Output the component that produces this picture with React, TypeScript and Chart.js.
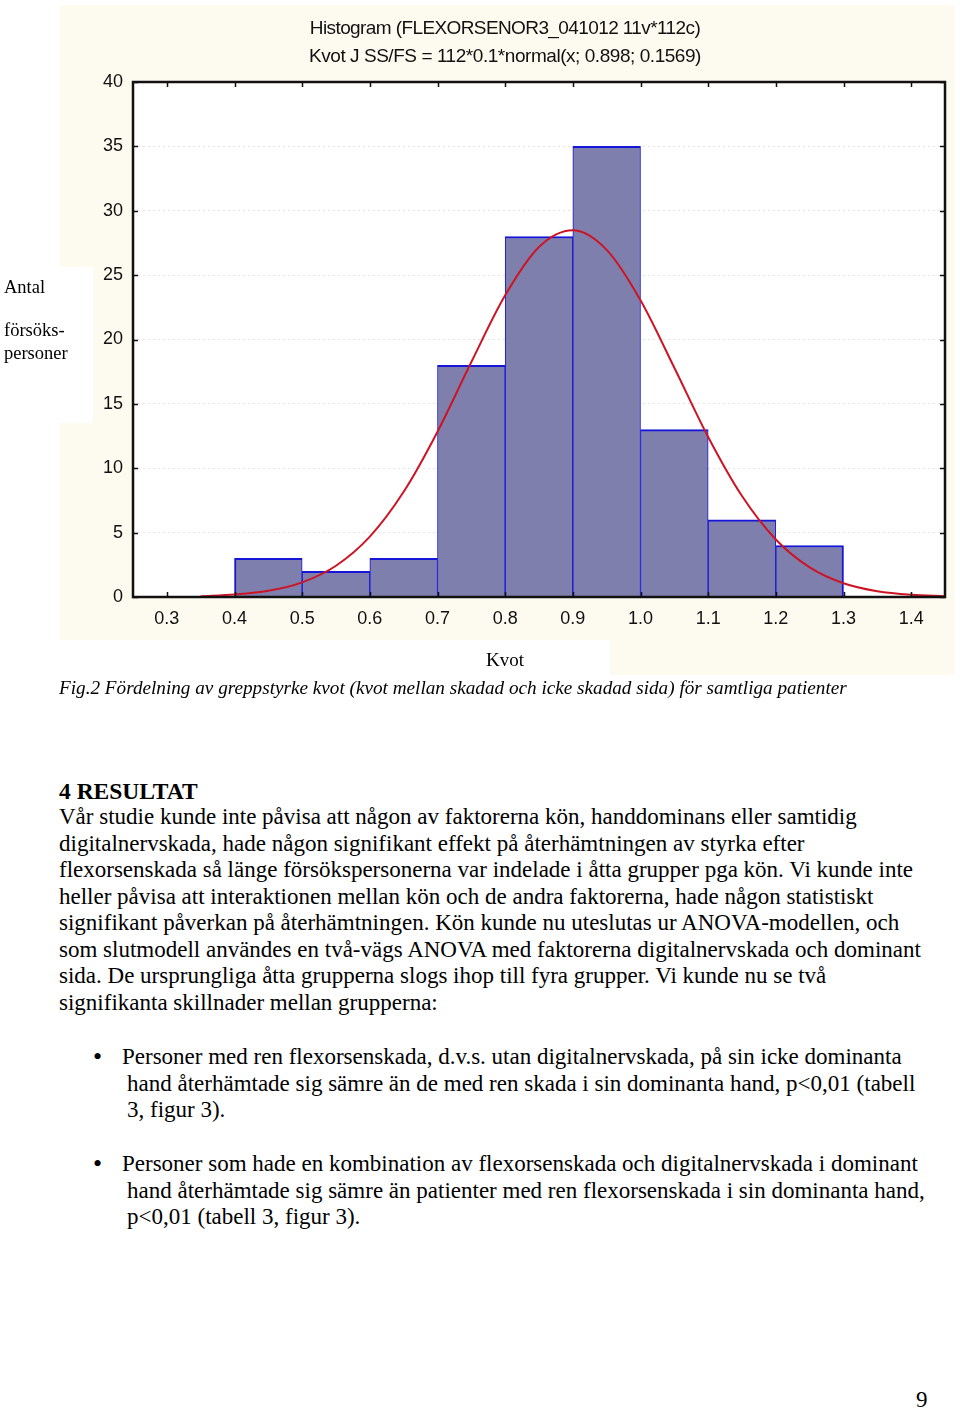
import React, { useEffect, useRef } from "react";
import { Chart, registerables } from "chart.js";

Chart.register(...registerables);

// ---- data ----
const binStarts = [0.4, 0.5, 0.6, 0.7, 0.8, 0.9, 1.0, 1.1, 1.2];
const binWidth = 0.1;
const binCounts = [3, 2, 3, 18, 28, 35, 13, 6, 4];

const curveX = [0.35, 0.4, 0.45, 0.5, 0.55, 0.6, 0.65, 0.7, 0.75, 0.8, 0.85, 0.9, 0.95, 1.0, 1.05, 1.1, 1.15, 1.2, 1.25, 1.3, 1.35, 1.4, 1.45];
const curveY = [0.06, 0.19, 0.48, 1.14, 2.43, 4.69, 8.17, 12.84, 18.25, 23.43, 27.18, 28.48, 26.96, 23.05, 17.81, 12.43, 7.84, 4.47, 2.3, 1.07, 0.45, 0.17, 0.06];

const xTickLabels = ["0.3", "0.4", "0.5", "0.6", "0.7", "0.8", "0.9", "1.0", "1.1", "1.2", "1.3", "1.4"];
const yMin = 0;
const yMax = 40;
const yStep = 5;
const xMin = 0.25;
const xMax = 1.45;

const titleLines = ["Histogram (FLEXORSENOR3_041012 11v*112c)", "Kvot J SS/FS = 112*0.1*normal(x; 0.898; 0.1569)"];
const yLabelLines = ["Antal", "försöks-", "personer"];
const xLabel = "Kvot";
const caption = "Fig.2 Fördelning av greppstyrke kvot (kvot mellan skadad och icke skadad sida) för samtliga patienter";
const heading = "4 RESULTAT";
const bodyLines = [
  "Vår studie kunde inte påvisa att någon av faktorerna kön, handdominans eller samtidig",
  "digitalnervskada, hade någon signifikant effekt på återhämtningen av styrka efter",
  "flexorsenskada så länge försökspersonerna var indelade i åtta grupper pga kön. Vi kunde inte",
  "heller påvisa att interaktionen mellan kön och de andra faktorerna, hade någon statistiskt",
  "signifikant påverkan på återhämtningen. Kön kunde nu uteslutas ur ANOVA-modellen, och",
  "som slutmodell användes en två-vägs ANOVA med faktorerna digitalnervskada och dominant",
  "sida. De ursprungliga åtta grupperna slogs ihop till fyra grupper. Vi kunde nu se två",
  "signifikanta skillnader mellan grupperna:",
];
const bullet1 = [
  "Personer med ren flexorsenskada, d.v.s. utan digitalnervskada, på sin icke dominanta",
  "hand återhämtade sig sämre än de med ren skada i sin dominanta hand, p<0,01 (tabell",
  "3, figur 3).",
];
const bullet2 = [
  "Personer som hade en kombination av flexorsenskada och digitalnervskada i dominant",
  "hand återhämtade sig sämre än patienter med ren flexorsenskada i sin dominanta hand,",
  "p<0,01 (tabell 3, figur 3).",
];
const pageNumber = "9";

const CREAM = "#fdfaef";
const SERIF = "'Liberation Serif', 'Times New Roman', serif";
const SANS = "'Liberation Sans', Arial, sans-serif";

const framePlugin = {
  id: "framePlugin",
  beforeDraw(chart: any) {
    const { ctx, chartArea } = chart;
    ctx.save();
    ctx.fillStyle = "#ffffff";
    ctx.fillRect(chartArea.left, chartArea.top, chartArea.right - chartArea.left, chartArea.bottom - chartArea.top);
    ctx.restore();
  },
  afterDatasetsDraw(chart: any) {
    const { ctx, chartArea, scales } = chart;
    const { left, right, top, bottom } = chartArea;
    ctx.save();
    ctx.strokeStyle = "#111111";
    ctx.lineWidth = 1.5;
    const tl = 5;
    ctx.beginPath();
    scales.y.ticks.forEach((t: any) => {
      const py = Math.round(scales.y.getPixelForValue(t.value)) + 0.5;
      ctx.moveTo(left, py);
      ctx.lineTo(left + tl, py);
      ctx.moveTo(right, py);
      ctx.lineTo(right - tl, py);
    });
    scales.x.ticks.forEach((t: any) => {
      const px = Math.round(scales.x.getPixelForValue(t.value)) + 0.5;
      ctx.moveTo(px, top);
      ctx.lineTo(px, top + tl);
      ctx.moveTo(px, bottom);
      ctx.lineTo(px, bottom - tl);
    });
    ctx.stroke();
    ctx.lineWidth = 2.5;
    ctx.strokeRect(left, top, right - left, bottom - top);
    ctx.restore();
  },
};

function HistogramChart() {
  const ref = useRef<HTMLCanvasElement | null>(null);
  useEffect(() => {
    if (!ref.current) return;
    const n = binCounts.length;
    const chart = new Chart(ref.current, {
      type: "bar",
      data: {
        datasets: [
          {
            type: "line",
            data: curveX.map((x, i) => ({ x, y: curveY[i] })),
            borderColor: "#cc1424",
            borderWidth: 2,
            pointRadius: 0,
            fill: false,
            cubicInterpolationMode: "monotone",
            order: 0,
          } as any,
          {
            type: "bar",
            data: binStarts.map((s, i) => ({ x: s + binWidth / 2, y: binCounts[i] })),
            backgroundColor: "#7f7fae",
            borderColor: "#1616d8",
            borderSkipped: false,
            borderWidth: (c: any) => ({
              top: 2,
              bottom: 0,
              left: c.dataIndex === 0 ? 2 : 1,
              right: c.dataIndex === n - 1 ? 2 : 1,
            }),
            barPercentage: 1,
            categoryPercentage: 1,
            grouped: false,
            order: 1,
          } as any,
        ],
      },
      options: {
        animation: false,
        responsive: false,
        devicePixelRatio: 1,
        events: [],
        layout: { padding: { left: 0, top: 82, right: 15, bottom: 63 } },
        plugins: {
          legend: { display: false },
          tooltip: { enabled: false },
          title: { display: false },
        },
        scales: {
          x: {
            type: "linear",
            offset: false,
            min: xMin,
            max: xMax,
            afterBuildTicks: (s: any) => {
              s.ticks = xTickLabels.map((v) => ({ value: parseFloat(v) }));
            },
            afterFit: (s: any) => {
              s.height = 40;
            },
            ticks: {
              autoSkip: false,
              maxRotation: 0,
              padding: 11,
              color: "#111111",
              font: { family: SANS, size: 18 },
              callback: (_v: any, i: number) => xTickLabels[i],
            },
            grid: { display: false, drawTicks: false, offset: false },
            border: { display: false },
          },
          y: {
            min: yMin,
            max: yMax,
            afterFit: (s: any) => {
              s.width = 133;
            },
            ticks: {
              stepSize: yStep,
              padding: 10,
              color: "#111111",
              font: { family: SANS, size: 18 },
            },
            grid: {
              drawTicks: false,
              lineWidth: 1,
              color: (c: any) =>
                c.tick && (c.tick.value === yMin || c.tick.value === yMax) ? "rgba(0,0,0,0)" : "#e4e4e4",
            },
            border: { display: false, dash: [2, 3] },
          },
        },
      },
      plugins: [framePlugin],
    });
    return () => chart.destroy();
  }, []);
  return (
    <canvas
      ref={ref}
      width={960}
      height={700}
      style={{ position: "absolute", left: 0, top: 0, width: 960, height: 700 }}
    />
  );
}

function Line({ cy, left, text, size = 23, style = {} }: any) {
  return (
    <div
      style={{
        position: "absolute",
        left,
        top: cy - 14,
        height: 28,
        lineHeight: "28px",
        fontSize: size,
        fontFamily: SERIF,
        color: "#000",
        whiteSpace: "nowrap",
        ...style,
      }}
    >
      {text}
    </div>
  );
}

export default function App() {
  const bodyCenters = [817, 844, 870, 897, 923, 950, 976, 1003];
  const b1Centers = [1057, 1084, 1110];
  const b2Centers = [1164, 1191, 1217];
  return (
    <div
      style={{
        position: "absolute",
        left: 0,
        top: 0,
        width: 960,
        height: 1409,
        background: "#ffffff",
        overflow: "hidden",
      }}
    >
      {/* cream background of the figure */}
      <div style={{ position: "absolute", left: 60, top: 5, width: 895, height: 635, background: CREAM }} />
      <div style={{ position: "absolute", left: 610, top: 640, width: 345, height: 35, background: CREAM }} />
      <div style={{ position: "absolute", left: 0, top: 267, width: 93, height: 156, background: "#ffffff" }} />

      <HistogramChart />

      {titleLines.map((t, i) => (
        <div
          key={t}
          style={{
            position: "absolute",
            left: 205,
            width: 600,
            top: 28 + i * 28 - 12,
            height: 24,
            lineHeight: "24px",
            textAlign: "center",
            fontFamily: SANS,
            fontSize: 19,
            letterSpacing: i === 0 ? "-0.6px" : "-0.45px",
            color: "#111",
            whiteSpace: "nowrap",
          }}
        >
          {t}
        </div>
      ))}

      {yLabelLines.map((t, i) => (
        <Line key={t} cy={[287, 330, 353][i]} left={4} text={t} size={18.5} />
      ))}
      <div
        style={{
          position: "absolute",
          left: 405,
          width: 200,
          top: 646,
          height: 28,
          lineHeight: "28px",
          textAlign: "center",
          fontFamily: SERIF,
          fontSize: 19,
        }}
      >
        {xLabel}
      </div>

      <Line cy={688} left={59} text={caption} size={19.2} style={{ fontStyle: "italic" }} />

      <Line cy={791} left={59} text={heading} size={23.5} style={{ fontWeight: "bold" }} />
      {bodyLines.map((t, i) => (
        <Line key={i} cy={bodyCenters[i]} left={59} text={t} />
      ))}

      <Line cy={1057} left={93} text={"•"} size={26} />
      {bullet1.map((t, i) => (
        <Line key={"a" + i} cy={b1Centers[i]} left={i === 0 ? 122 : 127} text={t} />
      ))}
      <Line cy={1164} left={93} text={"•"} size={26} />
      {bullet2.map((t, i) => (
        <Line key={"b" + i} cy={b2Centers[i]} left={i === 0 ? 122 : 127} text={t} />
      ))}

      <Line cy={1400} left={916} text={pageNumber} />
    </div>
  );
}
